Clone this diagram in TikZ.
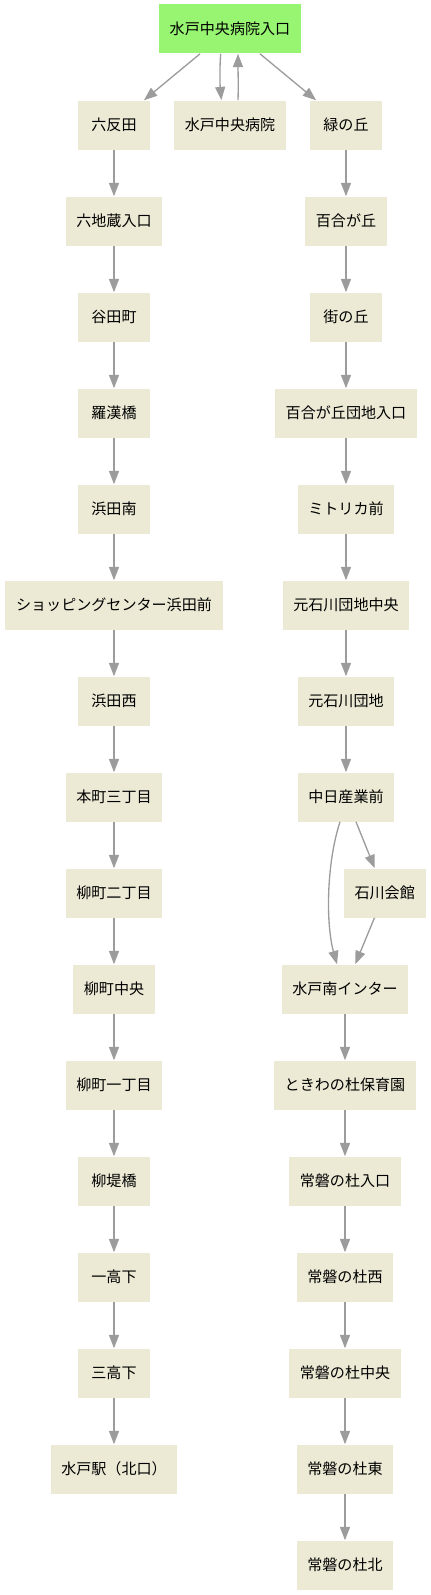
\documentclass[tikz,border=0pt]{standalone}
\usepackage{fontspec}
\newfontfamily\jpfont{Noto Sans CJK JP}
\usetikzlibrary{arrows.meta}
\definecolor{stopfill}{HTML}{ECEAD5}
\definecolor{startfill}{HTML}{98F572}
\definecolor{edgegray}{HTML}{9C9C9C}
\tikzset{
  stopbox/.style={rectangle, fill=stopfill, draw=none, inner xsep=8pt, inner ysep=0pt,
    minimum width=54pt, minimum height=36.75pt, font=\jpfont\fontsize{11.3}{13}\selectfont, text=black},
  startbox/.style={stopbox, fill=startfill},
  edge/.style={draw=edgegray, line width=1pt, -{Triangle[length=10pt, width=7.5pt]}},
}
\begin{document}
\begin{tikzpicture}[x=0.75pt, y=-0.75pt]
\useasboundingbox (0,0) rectangle (431,1595);
% top
\node[startbox] (top) at (230,29) {水戸中央病院入口};
\node[stopbox] (byoin) at (230,125) {水戸中央病院};
% left column
\node[stopbox] (l2) at (114,125) {六反田};
\node[stopbox] (l3) at (114,221) {六地蔵入口};
\node[stopbox] (l4) at (114,317) {谷田町};
\node[stopbox] (l5) at (114,413) {羅漢橋};
\node[stopbox] (l6) at (114,509) {浜田南};
\node[stopbox] (l7) at (114,605) {ショッピングセンター浜田前};
\node[stopbox] (l8) at (114,701) {浜田西};
\node[stopbox] (l9) at (114,797) {本町三丁目};
\node[stopbox] (l10) at (114,893) {柳町二丁目};
\node[stopbox] (l11) at (114,989) {柳町中央};
\node[stopbox] (l12) at (114,1085) {柳町一丁目};
\node[stopbox] (l13) at (114,1181) {柳堤橋};
\node[stopbox] (l14) at (114,1277) {一高下};
\node[stopbox] (l15) at (114,1373) {三高下};
\node[stopbox] (l16) at (114,1469) {水戸駅（北口）};
% right column
\node[stopbox] (r2) at (346,125) {緑の丘};
\node[stopbox] (r3) at (346,221) {百合が丘};
\node[stopbox] (r4) at (346,317) {街の丘};
\node[stopbox] (r5) at (346,413) {百合が丘団地入口};
\node[stopbox] (r6) at (346,509) {ミトリカ前};
\node[stopbox] (r7) at (346,605) {元石川団地中央};
\node[stopbox] (r8) at (346,701) {元石川団地};
\node[stopbox] (r9) at (346,797) {中日産業前};
\node[stopbox] (r10) at (384.7,893) {石川会館};
\node[stopbox] (r11) at (345,989) {水戸南インター};
\node[stopbox] (r12) at (345,1085) {ときわの杜保育園};
\node[stopbox] (r13) at (345,1181) {常磐の杜入口};
\node[stopbox] (r14) at (345,1277) {常磐の杜西};
\node[stopbox] (r15) at (345,1373) {常磐の杜中央};
\node[stopbox] (r16) at (345,1469) {常磐の杜東};
\node[stopbox] (r17) at (345,1565) {常磐の杜北};
% edges from top
\draw[edge] (top) -- (l2);
\draw[edge] (top) -- (r2);
\draw[edge] ([xshift=-7pt]top.south) .. controls (219.5,70) and (220,85) .. ([xshift=-6.5pt]byoin.north);
\draw[edge] ([xshift=6pt]byoin.north) .. controls (238.5,85) and (238,70) .. ([xshift=6pt]top.south);
% left chain
\foreach \a/\b in {l2/l3,l3/l4,l4/l5,l5/l6,l6/l7,l7/l8,l8/l9,l9/l10,l10/l11,l11/l12,l12/l13,l13/l14,l14/l15,l15/l16}
  \draw[edge] (\a) -- (\b);
% right chain
\foreach \a/\b in {r2/r3,r3/r4,r4/r5,r5/r6,r6/r7,r7/r8,r8/r9,r11/r12,r12/r13,r13/r14,r14/r15,r15/r16,r16/r17}
  \draw[edge] (\a) -- (\b);
\draw[edge] (r9) -- (r10);
\draw[edge] (r10) -- (r11);
\draw[edge] ([xshift=-4.5pt]r9.south) .. controls (326,865) and (326,925) .. ([xshift=-6pt]r11.north);
\end{tikzpicture}
\end{document}
